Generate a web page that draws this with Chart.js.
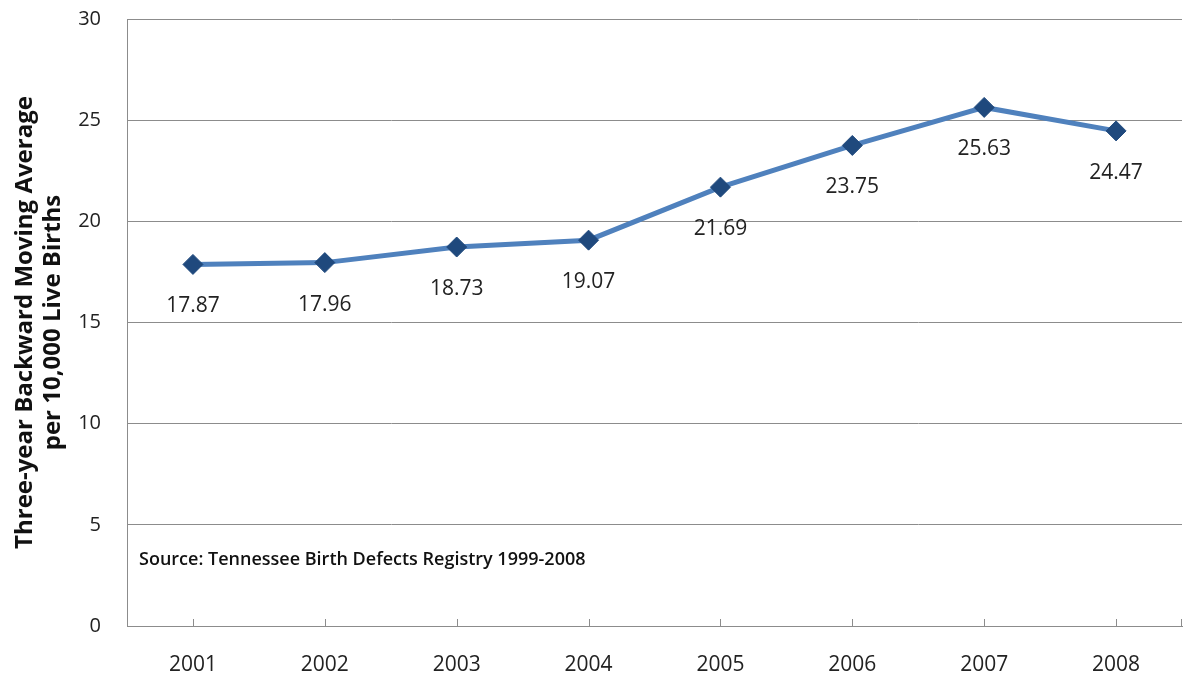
<!DOCTYPE html>
<html>
<head>
<meta charset="utf-8">
<script src="https://cdn.jsdelivr.net/npm/chart.js@4.4.1/dist/chart.umd.min.js"></script>
<style>
  html, body { margin: 0; padding: 0; background: #ffffff; }
  #wrap { width: 1185px; height: 675px; position: relative; }
</style>
</head>
<body>
<div id="wrap"><canvas id="rateChart"></canvas></div>
<script>
// Birth defect rate, three-year backward moving average
const years = ["2001", "2002", "2003", "2004", "2005", "2006", "2007", "2008"];
const rates = [17.87, 17.96, 18.73, 19.07, 21.69, 23.75, 25.63, 24.47];
const yTicks = [0, 5, 10, 15, 20, 25, 30];

const labelFont = "'Open Sans', sans-serif";
const textColor = "#222222";

// Value labels underneath each marker
const valueLabels = {
  id: "valueLabels",
  afterDatasetsDraw(chart) {
    const ctx = chart.ctx;
    const meta = chart.getDatasetMeta(0);
    ctx.save();
    ctx.font = "21px " + labelFont;
    ctx.fillStyle = textColor;
    ctx.textAlign = "center";
    ctx.textBaseline = "middle";
    meta.data.forEach((pt, i) => {
      ctx.fillText(rates[i].toFixed(2), pt.x, pt.y + 42);
    });
    ctx.restore();
  },
};

// Short inside tick marks on the category axis and source note
const extras = {
  id: "extras",
  afterDraw(chart) {
    const ctx = chart.ctx;
    const x = chart.scales.x;
    const area = chart.chartArea;
    ctx.save();
    ctx.strokeStyle = "#8c8c8c";
    ctx.lineWidth = 1;
    ctx.beginPath();
    x.ticks.forEach((t, i) => {
      const px = Math.round(x.getPixelForTick(i)) + 0.5;
      ctx.moveTo(px, area.bottom);
      ctx.lineTo(px, area.bottom - 7);
    });
    ctx.moveTo(area.right - 0.5, area.bottom);
    ctx.lineTo(area.right - 0.5, area.bottom - 7);
    ctx.stroke();
    ctx.font = "600 18px 'Open Sans', sans-serif";
    ctx.fillStyle = "#111111";
    ctx.textBaseline = "middle";
    ctx.fillText("Source: Tennessee Birth Defects Registry 1999-2008", area.left + 12, 560);
    ctx.restore();
  },
};

new Chart(document.getElementById("rateChart"), {
  type: "line",
  data: {
    labels: years,
    datasets: [
      {
        data: rates,
        borderColor: "#4f81bd",
        borderWidth: 5,
        tension: 0,
        pointStyle: "rectRot",
        pointRadius: 10,
        pointHoverRadius: 10,
        pointBackgroundColor: "#1f497d",
        pointBorderColor: "#1f497d",
        pointBorderWidth: 1,
      },
    ],
  },
  options: {
    responsive: true,
    maintainAspectRatio: false,
    animation: false,
    layout: { autoPadding: false, padding: { top: 19, right: 3, left: 0, bottom: 0 } },
    scales: {
      y: {
        min: 0,
        max: 30,
        afterBuildTicks(scale) {
          scale.ticks = yTicks.map((v) => ({ value: v }));
        },
        afterFit(scale) {
          scale.width = 127;
          scale.paddingTop = 0;
          scale.paddingBottom = 0;
        },
        border: { color: "#8c8c8c" },
        grid: { color: "#8c8c8c", drawTicks: false },
        ticks: {
          color: textColor,
          padding: 26,
          font: { size: 20, family: labelFont },
        },
        title: {
          display: true,
          text: ["Three-year Backward Moving Average", "per 10,000 Live Births"],
          color: "#111111",
          padding: { top: 11, bottom: 0 },
          font: { size: 24, weight: "bold", family: labelFont, lineHeight: 1.17 },
        },
      },
      x: {
        offset: true,
        afterFit(scale) {
          scale.height = 49;
        },
        border: { color: "#8c8c8c" },
        grid: { display: false },
        ticks: {
          color: textColor,
          padding: 18,
          font: { size: 21, family: labelFont },
        },
      },
    },
    plugins: {
      legend: { display: false },
      tooltip: { enabled: false },
    },
  },
  plugins: [valueLabels, extras],
});
</script>
</body>
</html>
